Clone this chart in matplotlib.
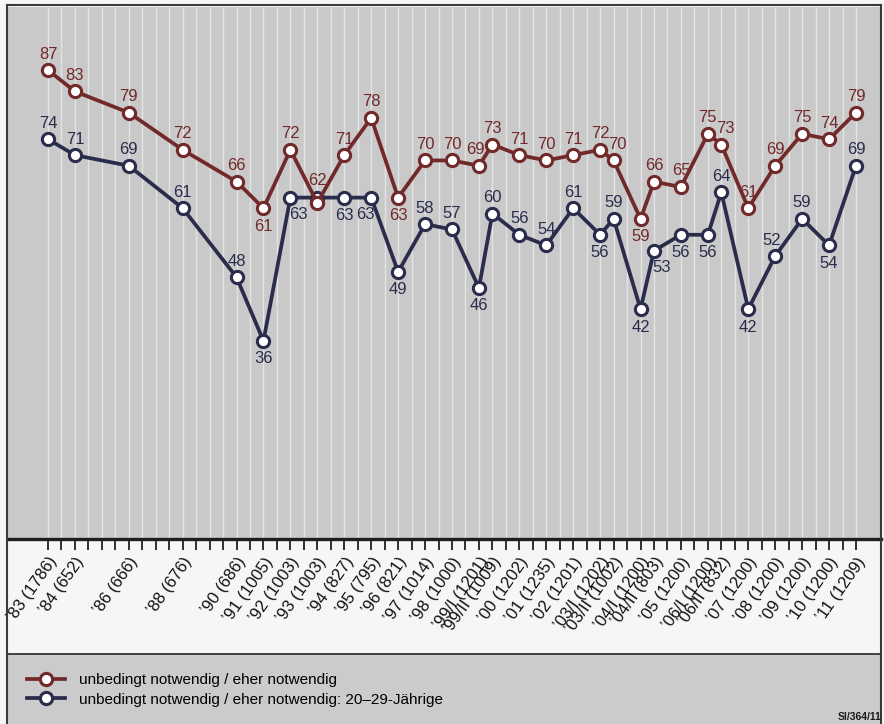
import matplotlib
matplotlib.use("Agg")
import matplotlib.pyplot as plt
from matplotlib.lines import Line2D
from matplotlib.patches import Rectangle

# survey waves (label, sample size) and their slot on the half-year axis
waves = ["’83", "’84", "’86", "’88", "’90", "’91", "’92", "’93", "’94", "’95",
         "’96", "’97", "’98", "’99/I", "’99/II", "’00", "’01", "’02", "’03/I", "’03/II",
         "’04/I", "’04/II", "’05", "’06/I", "’06/II", "’07", "’08", "’09", "’10", "’11"]
sample_n = [1786, 652, 666, 676, 686, 1005, 1003, 1003, 827, 795,
            821, 1014, 1000, 1201, 1009, 1202, 1235, 1201, 1202, 1002,
            1200, 803, 1200, 1200, 832, 1200, 1200, 1200, 1200, 1209]
slots = [0, 2, 6, 10, 14, 16, 18, 20, 22, 24,
         26, 28, 30, 32, 33, 35, 37, 39, 41, 42,
         44, 45, 47, 49, 50, 52, 54, 56, 58, 60]
n_slots = 61

all_resp = [87, 83, 79, 72, 66, 61, 72, 62, 71, 78,
            63, 70, 70, 69, 73, 71, 70, 71, 72, 70,
            59, 66, 65, 75, 73, 61, 69, 75, 74, 79]
young = [74, 71, 69, 61, 48, 36, 63, 63, 63, 63,
         49, 58, 57, 46, 60, 56, 54, 61, 56, 59,
         42, 53, 56, 56, 64, 42, 52, 59, 54, 69]

label_all = "unbedingt notwendig / eher notwendig"
label_young = "unbedingt notwendig / eher notwendig: 20–29-Jährige"

# where each value label sits relative to its marker
place_all = ["a", "a", "a", "a", "a", "b", "a", "aa", "a", "a",
             "b", "a", "a", "al", "a", "a", "a", "a", "a", "ar",
             "b", "a", "a", "a", "ar", "a", "a", "a", "a", "a"]
place_young = ["a", "a", "a", "a", "a", "b", "br", "n", "b", "bl",
               "b", "a", "a", "b", "a", "a", "a", "a", "b", "a",
               "b", "br", "b", "b", "a", "b", "al", "a", "b", "a"]

RED = "#72292a"
BLUE = "#2a2c4c"
W, H = 884, 724
plt.rcParams["font.family"] = ["Liberation Sans", "DejaVu Sans"]

fig = plt.figure(figsize=(W / 100, H / 100), dpi=100, facecolor="#f6f6f4")

# main plot area: x from px 8 to 881, y from px 7 to 539
ax = fig.add_axes([8 / W, 1 - 539 / H, 873 / W, 532 / H])
ax.set_facecolor("#c9c9c9")
px_per_slot = (856 - 48) / 60
ax.set_xlim((8 - 48) / px_per_slot, (881 - 48) / px_per_slot)
ax.set_ylim(-1.3, 98.9)

ax.vlines(range(n_slots), -1.3, 98.9, colors="#e4e4e4", lw=1.0, zorder=1)

offsets = {"a": (0, 16), "aa": (0, 22), "b": (0, -18),
           "al": (-3, 16), "ar": (4, 16),
           "br": (8, -17), "bl": (-6, -17)}


def draw_series(vals, places, color, label, z):
    ax.plot(slots, vals, color=color, lw=2.7, marker="o", ms=8.8,
            mfc="white", mec=color, mew=2.2, zorder=z, label=label)
    for x, v, p in zip(slots, vals, places):
        if p == "n":
            continue
        dx, dy = offsets[p]
        ax.annotate(str(v), (x, v), xytext=(dx, dy), textcoords="offset pixels",
                    ha="center", va="center", fontsize=12, color=color, zorder=z + 1)


draw_series(young, place_young, BLUE, label_young, 3)
draw_series(all_resp, place_all, RED, label_all, 5)

for s in ["top", "left", "right"]:
    ax.spines[s].set_visible(False)
ax.spines["bottom"].set_linewidth(2.4)
ax.spines["bottom"].set_color("#1e1e1e")
ax.set_yticks([])

tick_labels = [""] * n_slots
for s, w, n in zip(slots, waves, sample_n):
    tick_labels[s] = f"{w} ({n})"
ax.set_xticks(range(n_slots))
ax.set_xticklabels(tick_labels, rotation=55, ha="right", va="top",
                   rotation_mode="anchor", fontsize=12, color="#111111")
ax.tick_params(axis="x", direction="out", length=8, width=1.3, color="#222222", pad=3)

# legend band
fig.add_artist(Rectangle((8 / W, 0), 873 / W, (H - 654) / H, transform=fig.transFigure,
                         facecolor="#cbcbcb", edgecolor="none", zorder=0))
fig.add_artist(Line2D([8 / W, 881 / W], [1 - 654 / H] * 2, color="#333333", lw=1.3))
lines = ax.get_lines()
fig.legend(handles=[lines[1], lines[0]], loc="center left",
           bbox_to_anchor=(19 / W, 1 - 690 / H), frameon=False, borderpad=0,
           fontsize=11, handlelength=2.5, handletextpad=0.95, labelspacing=0.35)
fig.text(881 / W, 1 - 717 / H, "Sl/364/11", ha="right", va="center",
         fontsize=7.5, fontweight="bold", color="#1a1a1a")

# outer frame
for xs, ys in [([7 / W, 7 / W], [0, 1 - 5 / H]), ([881 / W, 881 / W], [0, 1 - 5 / H]),
               ([7 / W, 881 / W], [1 - 5 / H, 1 - 5 / H])]:
    fig.add_artist(Line2D(xs, ys, color="#3a3a3a", lw=1.5))

fig.savefig("out.png", dpi=100, facecolor=fig.get_facecolor())
